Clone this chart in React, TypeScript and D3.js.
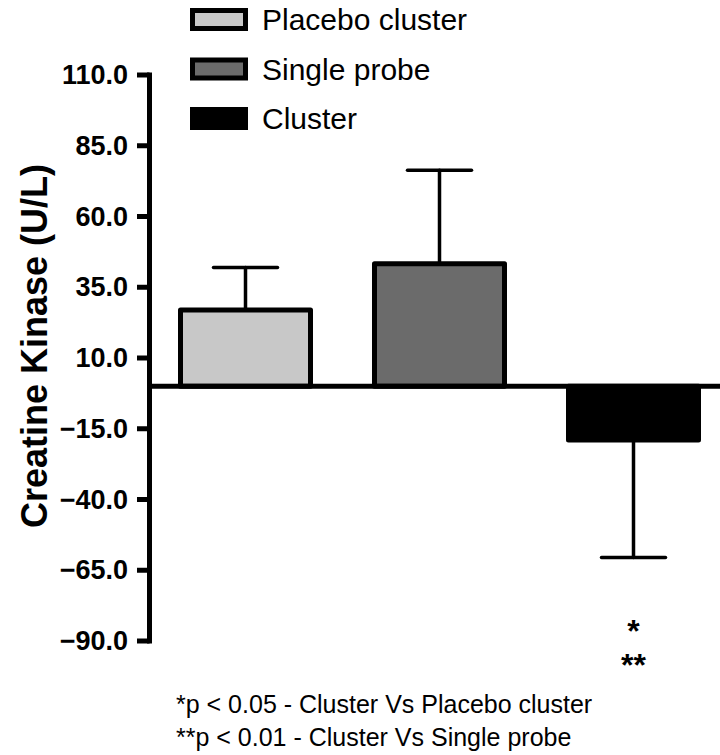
import React from "react";
import * as d3 from "d3";

const categories = ["Placebo cluster", "Single probe", "Cluster"];
const means = [27, 43.3, -19];
const errors = [15, 33, 41.5];
const fills = ["#c8c8c8", "#6b6b6b", "#000000"];
const yTicks = [110, 85, 60, 35, 10, -15, -40, -65, -90];
const footnotes = ["*p < 0.05 - Cluster Vs Placebo cluster", "**p < 0.01 - Cluster Vs Single probe"];
const stars = ["*", "**"];

const W = 720;
const H = 755;
const FONT = "'Liberation Sans', Arial, Helvetica, sans-serif";

export default function App() {
  const y = d3.scaleLinear().domain([-90, 110]).range([641, 75]);
  const x = d3.scalePoint<string>().domain(categories).range([245.5, 633.5]);
  const axisX = 149.5;
  const barW = 130;
  const capHalf = 32;
  const fmt = d3.format(".1f");
  const y0 = y(0);

  return (
    <svg width={W} height={H} style={{ position: "absolute", left: 0, top: 0, background: "#fff" }} fontFamily={FONT}>
      <rect x={0} y={0} width={W} height={H} fill="#fff" />
      {/* legend */}
      {categories.map((c, i) => (
        <g key={c} transform={`translate(0,${10.5 + i * 49.5})`}>
          <rect x={192.5} y={0} width={53} height={18} fill={fills[i]} stroke="#000" strokeWidth={5} />
          <text x={262} y={9} dominantBaseline="central" fontSize={30} fill="#000">{c}</text>
        </g>
      ))}
      {/* error bars */}
      {categories.map((c, i) => {
        const cx = x(c)!;
        const end = means[i] >= 0 ? means[i] + errors[i] : means[i] - errors[i];
        return (
          <g key={"e" + c} stroke="#000" strokeWidth={3.5} strokeLinecap="round">
            <line x1={cx} x2={cx} y1={y(means[i])} y2={y(end)} />
            <line x1={cx - capHalf} x2={cx + capHalf} y1={y(end)} y2={y(end)} />
          </g>
        );
      })}
      {/* bars */}
      {categories.map((c, i) => {
        const cx = x(c)!;
        const top = Math.min(y(means[i]), y0);
        const h = Math.abs(y(means[i]) - y0);
        return (
          <rect key={"b" + c} x={cx - barW / 2} y={top} width={barW} height={h}
            fill={fills[i]} stroke="#000" strokeWidth={5} strokeLinejoin="round" />
        );
      })}
      {/* zero line */}
      <line x1={axisX} x2={W} y1={y0} y2={y0} stroke="#000" strokeWidth={5} />
      {/* y axis */}
      <line x1={axisX} x2={axisX} y1={y(110) - 2.5} y2={y(-90) + 2.5} stroke="#000" strokeWidth={5} />
      {yTicks.map((t) => (
        <g key={t}>
          <line x1={137} x2={axisX} y1={y(t)} y2={y(t)} stroke="#000" strokeWidth={5} />
          <text x={128} y={y(t)} textAnchor="end" dominantBaseline="central" fontSize={27} fontWeight="bold" fill="#000">{fmt(t)}</text>
        </g>
      ))}
      {/* y label */}
      <text transform={`translate(47,${346}) rotate(-90)`} textAnchor="middle" fontSize={36} fontWeight="bold" fill="#000">
        Creatine Kinase (U/L)
      </text>
      {/* significance stars */}
      {stars.map((s, i) => (
        <text key={s} x={x("Cluster")!} y={642 + i * 34} textAnchor="middle" fontSize={32} fontWeight="bold" fill="#000">{s}</text>
      ))}
      {/* footnotes */}
      {footnotes.map((f, i) => (
        <text key={f} x={176} y={713 + i * 33} fontSize={25} fill="#000">{f}</text>
      ))}
    </svg>
  );
}
